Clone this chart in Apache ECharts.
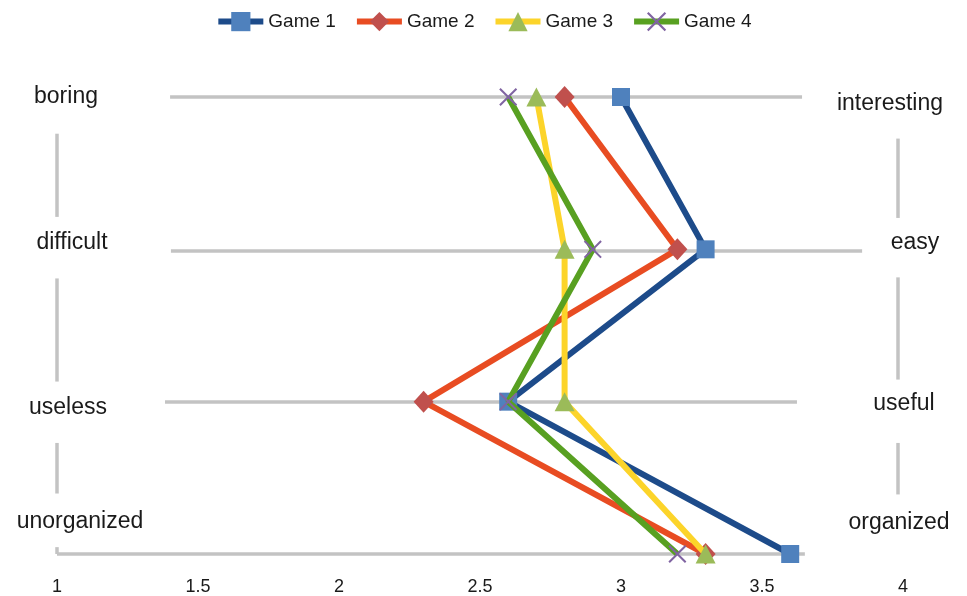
<!DOCTYPE html>
<html>
<head>
<meta charset="utf-8">
<script src="https://cdn.jsdelivr.net/npm/echarts@6/dist/echarts.min.js"></script>
<style>html,body{margin:0;padding:0;background:#fff}#c{width:967px;height:596px}</style>
</head>
<body>
<div id="c"></div>
<script>
// ---- data ----
var leftLabels = ['boring', 'difficult', 'useless', 'unorganized'];
var rightLabels = ['interesting', 'easy', 'useful', 'organized'];
var rows = [1, 2, 3, 4];
var seriesNames = ['Game 1', 'Game 2', 'Game 3', 'Game 4'];
var game1 = [3.0, 3.3, 2.6, 3.6];
var game2 = [2.8, 3.2, 2.3, 3.3];
var game3 = [2.7, 2.8, 2.8, 3.3];
var game4 = [2.6, 2.9, 2.6, 3.2];
var xTicks = [1, 1.5, 2, 2.5, 3, 3.5, 4];

// ---- styling / layout ----
var FONT = '"Liberation Sans", Arial, Helvetica, sans-serif';
var lineColors = ['#1d4b8a', '#e84c22', '#fcd42a', '#58a021'];
var markColors = ['#4f81bd', '#c0504d', '#9bbb59', '#8064a2'];
var xPath = 'path://M0,0.8 L0.8,0 L5,4.2 L9.2,0 L10,0.8 L5.8,5 L10,9.2 L9.2,10 L5,5.8 L0.8,10 L0,9.2 L4.2,5 Z';
var symbols = ['rect', 'diamond', 'triangle', xPath];
var symbolSizes = [18, [20, 22], [20, 19], 18];
var allGames = [game1, game2, game3, game4];

var chart = echarts.init(document.getElementById('c'), null, {renderer: 'canvas'});

var gray = '#c3c3c3';
function seg(x1, y1, x2, y2) { return [{coord: [x1, y1]}, {coord: [x2, y2]}]; }
var decoLines = [
  seg(1.401, rows[0], 3.642, rows[0]),
  seg(1.404, 2.01, 3.855, 2.01),
  seg(1.383, rows[2], 3.624, rows[2]),
  seg(1.0, rows[3], 3.652, rows[3]),
  seg(1.0, 1.241, 1.0, 1.787),
  seg(1.0, 2.191, 1.0, 2.868),
  seg(1.0, 3.271, 1.0, 3.603),
  seg(1.0, 3.955, 1.0, 4),
  seg(3.982, 1.273, 3.982, 1.794),
  seg(3.982, 2.184, 3.982, 2.855),
  seg(3.982, 3.271, 3.982, 3.609)
];

var series = [{
  type: 'line', name: '_deco', data: [], silent: true, clip: false, z: 0,
  markLine: {
    silent: true, symbol: ['none', 'none'], animation: false, z: 0,
    label: {show: false},
    lineStyle: {color: gray, width: 3.5, type: 'solid'},
    emphasis: {disabled: true},
    data: decoLines
  }
}];
allGames.forEach(function (g, i) {
  series.push({
    type: 'line', name: seriesNames[i],
    data: g.map(function (v, k) { return [v, rows[k]]; }),
    symbol: symbols[i], symbolSize: symbolSizes[i], showAllSymbol: true,
    lineStyle: {color: lineColors[i], width: 6},
    itemStyle: {color: markColors[i], opacity: 1},
    z: 2 + i, animation: false
  });
});

var leftPos = [[66, 97], [72, 243], [68, 408], [80, 522]];
var rightPos = [[890, 104], [915, 243], [904, 404], [899, 523]];
var graphics = [];
leftLabels.forEach(function (t, i) {
  graphics.push({type: 'text', x: leftPos[i][0], y: leftPos[i][1],
    style: {text: t, font: '23px ' + FONT, fill: '#1a1a1a', align: 'center', verticalAlign: 'middle'}});
});
rightLabels.forEach(function (t, i) {
  graphics.push({type: 'text', x: rightPos[i][0], y: rightPos[i][1],
    style: {text: t, font: '23px ' + FONT, fill: '#1a1a1a', align: 'center', verticalAlign: 'middle'}});
});

chart.setOption({
  backgroundColor: '#ffffff',
  animation: false,
  textStyle: {fontFamily: FONT},
  legend: {
    data: seriesNames, top: 7, left: 'center',
    itemWidth: 45, itemHeight: 24, itemGap: 18,
    lineStyle: {width: 6},
    textStyle: {fontSize: 19, color: '#1a1a1a', fontFamily: FONT}
  },
  grid: {left: 57, right: 64, top: 97, bottom: 38, containLabel: false},
  xAxis: {
    type: 'value', min: xTicks[0], max: xTicks[xTicks.length - 1], interval: 0.5,
    axisLine: {show: false}, axisTick: {show: false}, splitLine: {show: false},
    axisLabel: {fontSize: 18, color: '#1a1a1a', margin: 24, fontFamily: FONT,
      formatter: function (v) { return String(v); }}
  },
  yAxis: {
    type: 'value', min: rows[0], max: rows[rows.length - 1], inverse: true,
    show: false, splitLine: {show: false}
  },
  graphic: graphics,
  series: series
});
</script>
</body>
</html>
